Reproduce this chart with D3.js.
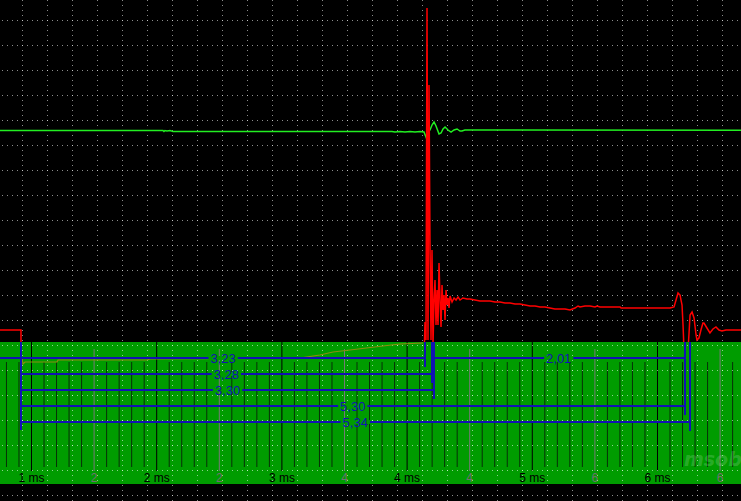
<!DOCTYPE html>
<html><head><meta charset="utf-8">
<script src="https://cdn.jsdelivr.net/npm/d3@7"></script>
<style>html,body{margin:0;padding:0;background:#000;overflow:hidden}svg{display:block}</style>
</head><body>
<svg id="c" width="741" height="501"></svg>
<script>
// ---------- data ----------
const redTime  = [0.752,0.920,0.920,4.139,4.147,4.155,4.163,4.171,4.179,4.187,4.195,4.203,4.211,4.219,4.227,4.235,4.243,4.251,4.259,4.267,4.275,4.283,4.291,4.299,4.307,4.315,4.323,4.331,4.339,4.347,4.363,4.379,4.395,4.411,4.427,4.450,4.482,4.506,4.546,4.586,4.626,4.666,4.706,4.746,4.786,4.826,4.866,4.906,4.946,4.986,5.026,5.066,5.105,5.145,5.185,5.225,5.265,5.305,5.345,5.369,5.385,5.425,5.465,5.505,5.521,5.545,5.705,5.713,6.104,6.136,6.152,6.168,6.184,6.200,6.208,6.216,6.248,6.256,6.264,6.280,6.296,6.312,6.319,6.335,6.351,6.367,6.375,6.399,6.423,6.447,6.471,6.495,6.519,6.551,6.671];
const redValue = [6.6,6.6,5.4,5.4,6.92,6.2,19.48,6.2,16.4,10.0,6.2,9.8,6.0,7.8,8.6,6.8,8.2,6.8,9.28,7.8,6.72,8.4,7.4,8.0,7.0,8.2,7.6,7.88,7.48,7.96,7.72,7.88,7.8,7.92,7.8,7.88,7.84,7.84,7.8,7.76,7.76,7.76,7.72,7.72,7.68,7.68,7.64,7.64,7.6,7.56,7.56,7.52,7.52,7.48,7.44,7.44,7.44,7.4,7.48,7.56,7.52,7.56,7.56,7.52,7.56,7.52,7.52,7.48,7.48,7.52,7.8,8.08,8.0,7.6,6.8,5.8,5.8,6.48,7.2,7.32,7.08,6.4,6.2,6.28,6.6,6.88,6.88,6.68,6.48,6.64,6.72,6.6,6.56,6.6,6.6];

const greenTime  = [0.752,2.054,2.062,2.070,2.086,2.110,2.134,3.883,3.907,3.947,3.987,4.027,4.067,4.107,4.139,4.155,4.171,4.187,4.203,4.219,4.235,4.259,4.275,4.291,4.307,4.331,4.355,4.379,4.403,4.427,4.442,4.466,4.490,6.671];
const greenValue = [14.58,14.58,14.54,14.58,14.56,14.58,14.54,14.54,14.52,14.54,14.52,14.54,14.52,14.54,14.52,14.32,14.56,14.6,14.8,14.92,14.76,14.44,14.48,14.64,14.72,14.6,14.52,14.6,14.64,14.56,14.56,14.6,14.6,14.59];

const oliveTime  = [0.928,0.936,0.952,1.208,1.216,1.927,1.950,3.149,3.308,3.412,3.548,3.811,3.947,4.131];
const oliveValue = [5.48,5.24,5.32,5.32,5.4,5.4,5.44,5.48,5.6,5.72,5.8,5.96,6.04,6.08];

const majorTicks  = [1,2,3,4,5,6];
const majorLabels = ["1 ms","2 ms","3 ms","4 ms","5 ms","6 ms"];
const halfTicks   = [1.5,2.5,3.5,4.5,5.5,6.5];
const halfLabels  = ["2","2","4","4","6","6"];
const minorTicks  = d3.range(8,67).map(d=>d/10).filter(t=>Math.abs(t*2-Math.round(t*2))>1e-6);

const cursorStart  = 0.92;
const measureLabel = ["3,23","3,28","3,30","5,30","5,34","2,01"];
const measureFrom  = [0.92,0.92,0.92,0.92,0.92,4.21];
const measureTo    = [4.15,4.20,4.22,6.22,6.26,6.22];
const measureRow   = [0,1,2,3,4,0];
const cursorEndRow = [0,1,2,3,4];
const cursorTimes  = [4.15,4.20,4.22,6.22,6.26];

// ---------- layout ----------
const W=741,H=501, panelTop=342, panelBottom=484;
const x = d3.scaleLinear().domain([0.7524,6.671]).range([0,W]);
const y = d3.scaleLinear().domain([-0.2,19.8]).range([500,0]);
const rowY = r => 358 + 16*r;

const svg = d3.select("#c");
svg.append("rect").attr("width",W).attr("height",H).attr("fill","#000");
svg.append("defs").append("clipPath").attr("id","top")
  .append("rect").attr("x",0).attr("y",0).attr("width",W).attr("height",panelTop);

svg.append("rect").attr("x",0).attr("y",panelTop).attr("width",W).attr("height",panelBottom-panelTop).attr("fill","#009c00");

function axisAt(ticks, ty, size, color, labels){
  const ax = d3.axisBottom(x).tickValues(ticks).tickSize(size).tickPadding(2.5)
    .tickFormat((d,i)=>labels?labels[i]:"");
  const g = svg.append("g").attr("transform",`translate(0,${ty})`).call(ax);
  g.select(".domain").remove();
  g.selectAll("line").attr("stroke",color).attr("stroke-width",1);
  g.selectAll("text").attr("font-family","Liberation Sans, Arial, sans-serif").attr("font-size",12);
  return g;
}
axisAt(minorTicks, 362, 105, "#083008", null);
axisAt(halfTicks, 349, 122, "#787878", halfLabels).selectAll("text").attr("fill","#707070");
axisAt(majorTicks, panelTop, 129, "#000", majorLabels).selectAll("text").attr("fill","#000");

// dotted grid
const gridG = svg.append("g").attr("stroke","#fff").attr("stroke-opacity",0.55).attr("stroke-width",1);
d3.range(22, W, 25).forEach(px=>{
  gridG.append("line").attr("x1",px+0.5).attr("x2",px+0.5).attr("y1",0).attr("y2",H).attr("stroke-dasharray","1,4");
});
d3.range(20, H, 25).forEach(py=>{
  gridG.append("line").attr("x1",2).attr("x2",W).attr("y1",py+0.5).attr("y2",py+0.5).attr("stroke-dasharray","1,4");
});

const line = d3.line().x(d=>x(d[0])).y(d=>y(d[1]));
svg.append("path").datum(d3.zip(oliveTime,oliveValue)).attr("d",line)
  .attr("fill","none").attr("stroke","#8c8c10").attr("stroke-width",1.2);

const tg = svg.append("g").attr("clip-path","url(#top)");
tg.append("path").datum(d3.zip(greenTime,greenValue)).attr("d",line)
  .attr("fill","none").attr("stroke","#22ee22").attr("stroke-width",1.5);
tg.append("path").datum(d3.zip(redTime,redValue)).attr("d",line)
  .attr("fill","none").attr("stroke","#ff0000").attr("stroke-width",1.5);

const blue = "#1212b4";
const bg = svg.append("g");
bg.append("line").attr("x1",0).attr("x2",x(cursorStart)).attr("y1",rowY(0)).attr("y2",rowY(0)).attr("stroke",blue).attr("stroke-width",2);
measureLabel.forEach((lab,i)=>{
  bg.append("line").attr("x1",x(measureFrom[i])).attr("x2",x(measureTo[i]))
    .attr("y1",rowY(measureRow[i])).attr("y2",rowY(measureRow[i])).attr("stroke",blue).attr("stroke-width",2);
});
bg.append("line").attr("x1",Math.round(x(cursorStart))).attr("x2",Math.round(x(cursorStart)))
  .attr("y1",panelTop).attr("y2",430).attr("stroke",blue).attr("stroke-width",2);
cursorTimes.forEach((t,i)=>{
  const px=Math.round(x(t));
  bg.append("line").attr("x1",px).attr("x2",px).attr("y1",panelTop).attr("y2",rowY(cursorEndRow[i])+9)
    .attr("stroke",blue).attr("stroke-width",2);
});
measureLabel.forEach((lab,i)=>{
  const cx = x((measureFrom[i]+measureTo[i])/2), cy=rowY(measureRow[i]);
  const t = bg.append("text").attr("x",cx).attr("y",cy).attr("dy","0.36em").attr("text-anchor","middle")
    .attr("font-family","Liberation Sans, Arial, sans-serif").attr("font-size",13).attr("fill",blue).text(lab);
  const b = t.node().getBBox();
  bg.insert("rect", () => t.node()).attr("x",b.x-2).attr("y",cy-2).attr("width",b.width+4).attr("height",4).attr("fill","#009c00");
});

svg.append("text").attr("x",684).attr("y",466).attr("font-family","DejaVu Sans, sans-serif")
  .attr("font-style","italic").attr("font-weight","bold").attr("font-size",19)
  .attr("fill","#fff").attr("fill-opacity",0.18).text("msob");
</script>
</body></html>
